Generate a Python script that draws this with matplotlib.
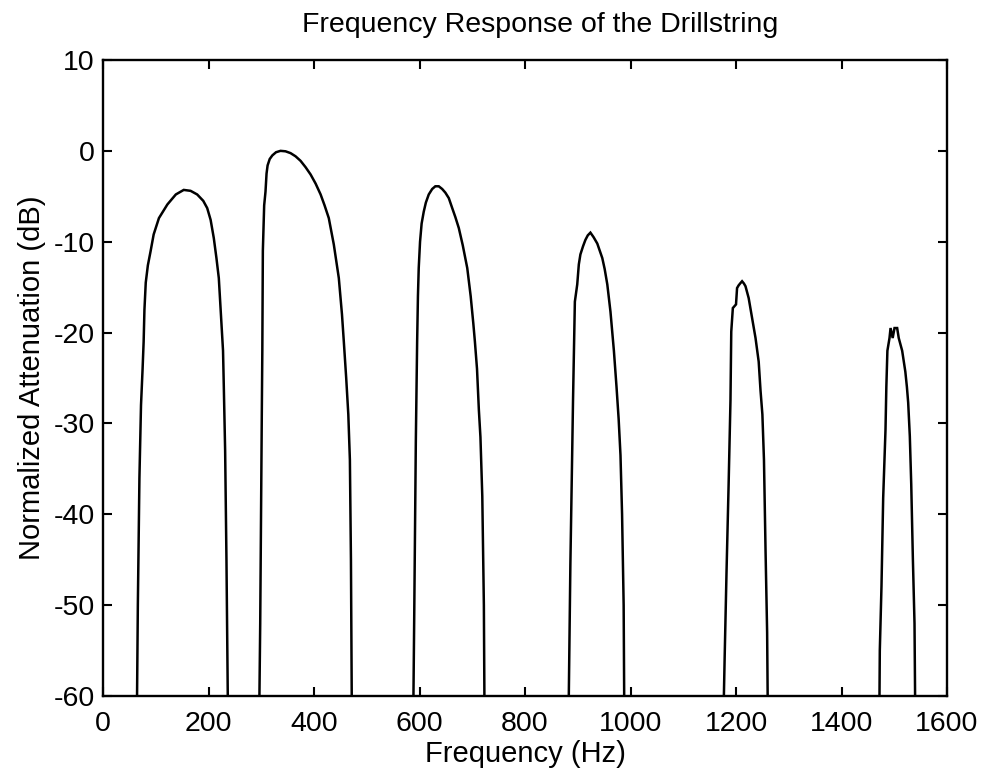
import numpy as np
import matplotlib
matplotlib.use('Agg')
import matplotlib.pyplot as plt

plt.rcParams['font.family'] = ['Liberation Sans', 'DejaVu Sans']
plt.rcParams['axes.unicode_minus'] = False

# lobes of the response (Hz, dB)
lobe1_f = [64.5, 66, 69, 72, 75, 77, 78.5, 81, 85, 90, 96, 106, 122, 138, 153, 166, 178.5,
           190, 197.5, 204, 210, 215, 219.5, 223, 226, 227.5, 229, 231.5, 234, 236.5]
lobe1_db = [-60, -50, -36, -28, -24, -21, -17.5, -14.5, -12.6, -11.1, -9.2, -7.4, -5.9, -4.8,
            -4.3, -4.4, -4.8, -5.5, -6.3, -7.6, -9.6, -11.8, -14, -17.5, -20.5, -22, -26, -33,
            -45, -60]

lobe2_f = [296.5, 298, 301, 302, 303, 305.5, 308, 310, 312, 316, 321, 328, 336.5, 346, 355.5,
           365, 374.5, 384, 393.5, 403, 412.5, 420, 428, 437.5, 447, 453, 456.5, 461, 465,
           468, 470, 471.5]
lobe2_db = [-60, -52, -29, -22, -11, -6, -4.5, -2.5, -1.6, -0.9, -0.5, -0.15, 0, -0.05, -0.25,
            -0.6, -1.1, -1.8, -2.6, -3.6, -4.8, -6.0, -7.4, -10.3, -14, -18, -21, -25, -29,
            -34, -45, -60]

lobe3_f = [588.5, 590, 593, 595.5, 597, 598.5, 601, 604, 608, 612, 617.5, 624, 630, 636.5,
           643, 649, 655.5, 662, 668, 674.5, 682, 690.5, 697, 702, 705, 709, 712.5, 715.5,
           719, 722, 723]
lobe3_db = [-60, -51, -32, -21, -16, -12.9, -10, -8, -6.7, -5.7, -4.8, -4.2, -3.9, -3.9,
            -4.2, -4.6, -5.2, -6.3, -7.3, -8.5, -10.4, -12.9, -16, -19, -21, -24, -28.5, -31.5,
            -38, -50, -60]

lobe4_f = [883, 886, 889.5, 891, 892.5, 894.5, 899, 902, 905, 910, 914.5, 919, 924, 930,
           937, 946.5, 951, 956, 962, 968.5, 973.5, 977.5, 981, 984, 987, 988]
lobe4_db = [-60, -45.5, -33, -27.5, -22.8, -16.6, -14.7, -12.5, -11.4, -10.5, -9.8, -9.3, -9.0,
            -9.5, -10.2, -11.8, -13, -14.7, -17.7, -22, -26, -29.5, -33.5, -40, -50, -60]

lobe5_f = [1177, 1178.5, 1182, 1186, 1189.5, 1191, 1194, 1200, 1202, 1205, 1208.5, 1211.5,
           1215, 1218, 1224, 1230.5, 1237, 1243, 1246.5, 1250, 1253, 1256, 1259, 1260]
lobe5_db = [-60, -55.7, -46.4, -36.7, -27.5, -19.9, -17.3, -16.9, -15.1, -14.8, -14.55, -14.35,
            -14.6, -14.9, -16.2, -18.4, -20.6, -23.2, -26.4, -29, -34, -44, -53, -60]

lobe6_f = [1472, 1472.6, 1475.8, 1479, 1483.4, 1485, 1487, 1491, 1493, 1497, 1500.5, 1505.5,
           1508.5, 1515, 1521, 1524, 1526.4, 1529.5, 1532.2, 1535.3, 1538.4, 1539.5]
lobe6_db = [-60, -55, -47.9, -38.2, -30.7, -26, -22, -20.6, -19.5, -20.6, -19.5, -19.5,
            -20.6, -22, -24.3, -26, -27.7, -31.4, -36.7, -44.9, -52, -60]

lobes = [(lobe1_f, lobe1_db), (lobe2_f, lobe2_db), (lobe3_f, lobe3_db),
         (lobe4_f, lobe4_db), (lobe5_f, lobe5_db), (lobe6_f, lobe6_db)]

fig = plt.figure(figsize=(9.84, 7.72), dpi=100)
ax = fig.add_axes([0.1047, 0.0984, 0.8577, 0.8239])

for f, db in lobes:
    ax.plot(f, db, color='black', linewidth=1.8, solid_joinstyle='miter')

ax.set_xlim(0, 1600)
ax.set_ylim(-60, 10)
ax.set_xticks(np.arange(0, 1601, 200))
ax.set_yticks(np.arange(-60, 11, 10))
ax.tick_params(direction='in', length=6.5, width=1.5, top=True, right=True,
               labelsize=20.5)
ax.tick_params(axis='x', pad=11)
ax.tick_params(axis='y', pad=6)
for s in ax.spines.values():
    s.set_linewidth(1.7)

ax.set_title('Frequency Response of the Drillstring', fontsize=20.5, pad=20, x=0.518)
ax.set_xlabel('Frequency (Hz)', fontsize=21, labelpad=2)
ax.set_ylabel('Normalized Attenuation (dB)', fontsize=21, labelpad=5)

fig.savefig('out.png', dpi=100)
